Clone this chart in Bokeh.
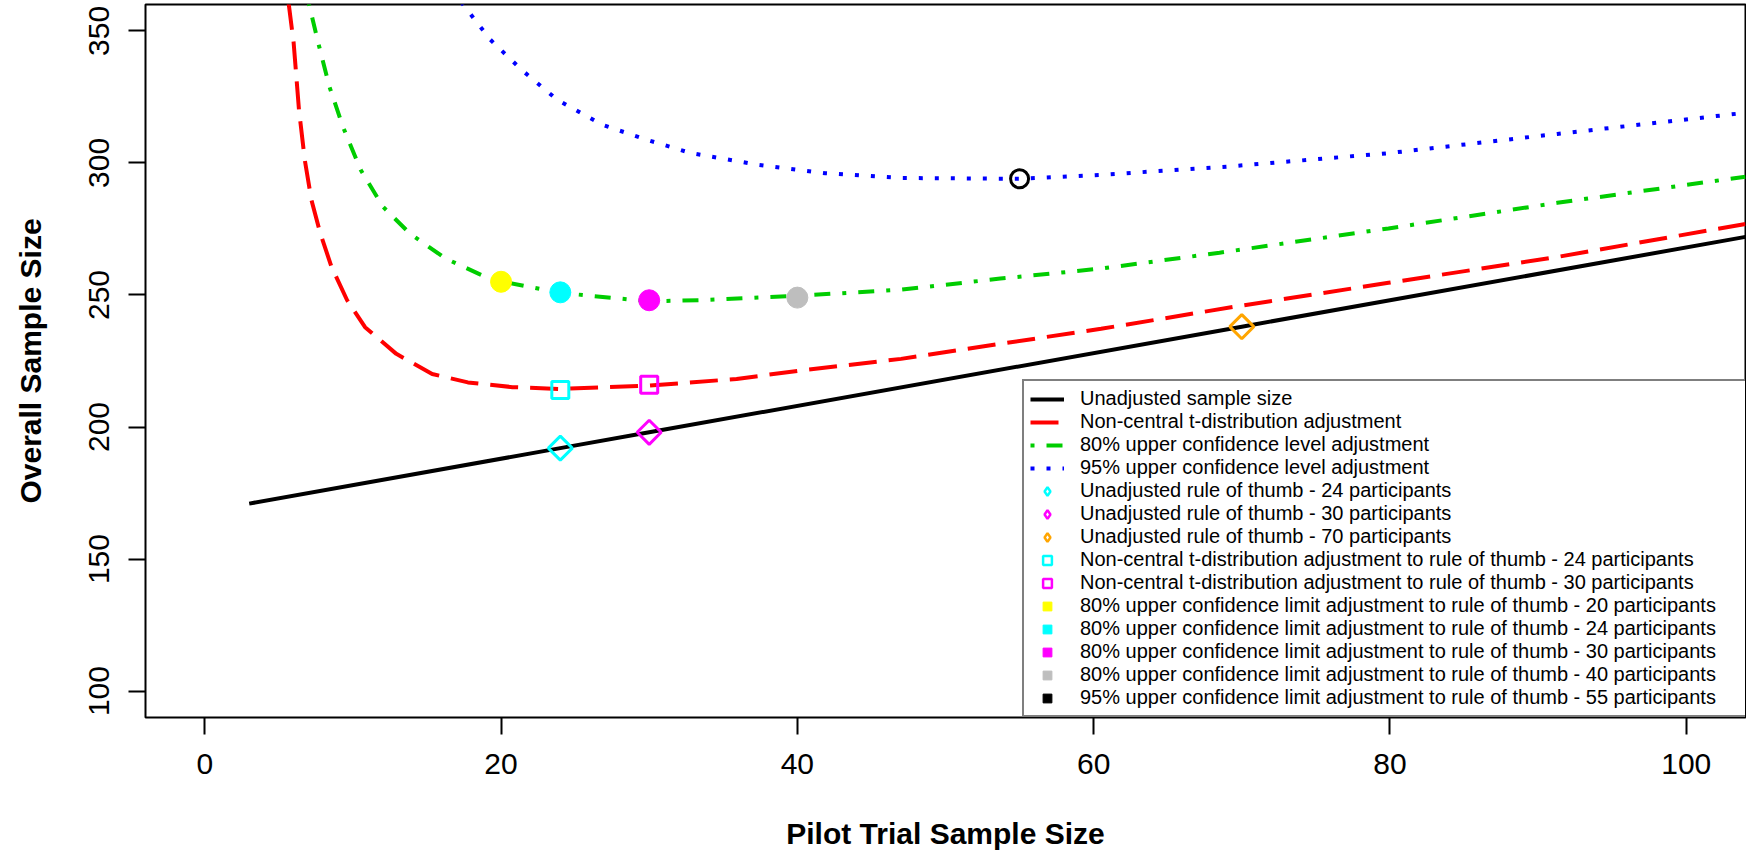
from bokeh.plotting import figure
from bokeh.models import Range1d, FixedTicker, Legend, LegendItem, ColumnDataSource
from bokeh.embed import file_html
from bokeh.resources import INLINE
import math

# ---------------- data ----------------
x_ticks = [0, 20, 40, 60, 80, 100]
y_ticks = [100, 150, 200, 250, 300, 350]

# Unadjusted sample size
unadj_n = [3, 24, 30, 70, 104]
unadj_total = [171, 192, 198, 238, 272]

# Non-central t-distribution adjustment
nct_n = [5.65, 6.0, 6.36, 6.75, 7.2, 7.8, 8.56, 9.61, 10.82, 12.93, 15.35, 17.76,
         20.78, 24.0, 30.0, 35.9, 40.2, 47.0, 53.7, 60.5, 70.0, 79.9, 91.3, 104]
nct_total = [361.0, 345.5, 320.1, 301.2, 286.0, 273.3, 260.6, 248.0, 237.8, 227.7, 220.1, 216.9,
             215.1, 214.4, 215.7, 218.2, 221.4, 225.8, 231.5, 237.2, 246.0, 254.6, 264.4, 276.9]

# 80% upper confidence level adjustment
ucl80_n = [7.0, 7.66, 8.41, 9.32, 10.52, 12.03, 13.84, 16.25, 18.97, 20.0, 24.0, 30.0,
           33.4, 40.0, 47.0, 53.7, 60.5, 68.5, 79.9, 91.3, 104]
ucl80_total = [361.0, 345.5, 329.0, 313.8, 297.4, 283.4, 273.3, 263.8, 256.8, 255.2, 250.8, 247.6,
               248.0, 249.7, 252.0, 256.2, 260.0, 266.0, 275.2, 284.9, 294.8]

# 95% upper confidence level adjustment
ucl95_n = [17.3, 19.27, 21.38, 23.79, 26.81, 29.82, 32.84, 37.36, 41.89, 47.0, 55.0,
           60.5, 69.0, 79.9, 91.3, 104]
ucl95_total = [361.0, 346.7, 335.3, 323.9, 314.5, 308.8, 303.7, 299.3, 296.1, 294.3, 294.0,
               295.5, 298.6, 303.7, 311.0, 319.0]

# rule-of-thumb points
thumb_unadj_n = [24, 30, 70]
thumb_unadj_total = [192, 198, 238]
thumb_unadj_color = ["#00FFFF", "#FF00FF", "#FFA500"]

thumb_nct_n = [24, 30]
thumb_nct_total = [214, 216]
thumb_nct_color = ["#00FFFF", "#FF00FF"]

thumb_ucl80_n = [20, 24, 30, 40]
thumb_ucl80_total = [255, 251, 248, 249]
thumb_ucl80_color = ["#FFFF00", "#00FFFF", "#FF00FF", "#BEBEBE"]

thumb_ucl95_n = [55]
thumb_ucl95_total = [294]
thumb_ucl95_color = ["#000000"]

legend_labels = [
    "Unadjusted sample size",
    "Non-central t-distribution adjustment",
    "80% upper confidence level adjustment",
    "95% upper confidence level adjustment",
    "Unadjusted rule of thumb - 24 participants",
    "Unadjusted rule of thumb - 30 participants",
    "Unadjusted rule of thumb - 70 participants",
    "Non-central t-distribution adjustment to rule of thumb - 24 participants",
    "Non-central t-distribution adjustment to rule of thumb - 30 participants",
    "80% upper confidence limit adjustment to rule of thumb - 20 participants",
    "80% upper confidence limit adjustment to rule of thumb - 24 participants",
    "80% upper confidence limit adjustment to rule of thumb - 30 participants",
    "80% upper confidence limit adjustment to rule of thumb - 40 participants",
    "95% upper confidence limit adjustment to rule of thumb - 55 participants",
]

# ---------------- figure ----------------
FONT = "Liberation Sans"
p = figure(width=1746, height=862, x_range=Range1d(-4, 104), y_range=Range1d(90, 360),
           output_backend="svg", toolbar_location=None,
           min_border_left=145, min_border_right=1, min_border_top=4, min_border_bottom=145,
           background_fill_color="white", border_fill_color="white")
p.grid.grid_line_color = None
p.outline_line_color = "black"
p.outline_line_width = 2

for ax in (p.xaxis[0], p.yaxis[0]):
    ax.axis_line_color = None
    ax.major_tick_line_color = "black"
    ax.major_tick_line_width = 2
    ax.major_tick_out = 17
    ax.major_tick_in = 0
    ax.minor_tick_line_color = None
    ax.major_label_text_font = FONT
    ax.major_label_text_font_size = "30px"
    ax.major_label_text_color = "black"
    ax.axis_label_text_font = FONT
    ax.axis_label_text_font_size = "30px"
    ax.axis_label_text_font_style = "bold"
    ax.axis_label_text_color = "black"

p.xaxis.ticker = FixedTicker(ticks=x_ticks)
p.yaxis.ticker = FixedTicker(ticks=y_ticks)
p.xaxis.axis_label = "Pilot Trial Sample Size"
p.yaxis.axis_label = "Overall Sample Size"
p.xaxis.major_label_standoff = 19
p.xaxis.axis_label_standoff = 40
p.yaxis.major_label_standoff = 19
p.yaxis.major_label_orientation = "vertical"
p.yaxis.axis_label_standoff = 40

LW = 4
r_unadj = p.line(unadj_n, unadj_total, line_color="black", line_width=LW)
r_nct = p.line(nct_n, nct_total, line_color="#FF0000", line_width=LW, line_dash="28 12")
r_80 = p.line(ucl80_n, ucl80_total, line_color="#00CD00", line_width=LW, line_dash="4 12 16 12")
r_95 = p.line(ucl95_n, ucl95_total, line_color="#0000FF", line_width=LW, line_dash="4 12")

# plotted markers
src_unadj = ColumnDataSource(dict(x=thumb_unadj_n, y=thumb_unadj_total, c=thumb_unadj_color))
src_nct = ColumnDataSource(dict(x=thumb_nct_n, y=thumb_nct_total, c=thumb_nct_color))
src_80 = ColumnDataSource(dict(x=thumb_ucl80_n, y=thumb_ucl80_total, c=thumb_ucl80_color))
src_95 = ColumnDataSource(dict(x=thumb_ucl95_n, y=thumb_ucl95_total, c=thumb_ucl95_color))

p.scatter(x="x", y="y", source=src_unadj, marker="square", angle=math.pi / 4, size=17,
          fill_color=None, line_color="c", line_width=3)
p.scatter(x="x", y="y", source=src_nct, marker="square", size=17,
          fill_color=None, line_color="c", line_width=3)
p.scatter(x="x", y="y", source=src_80, marker="circle", size=21,
          fill_color="c", line_color="c", line_width=1)
p.scatter(x="x", y="y", source=src_95, marker="circle", size=18,
          fill_color=None, line_color="c", line_width=3)

# legend-only glyphs: same points, hidden renderers whose glyph is used for the legend key
def legend_glyph(src, i, marker, filled):
    col = src.data["c"][i]
    one = ColumnDataSource(dict(x=[src.data["x"][i]], y=[src.data["y"][i]]))
    return p.scatter(x="x", y="y", source=one, visible=False,
                     marker=marker, fill_color=col if filled else None, line_color=col,
                     line_width=1 if filled else 2.5)

legend_renderers = (
    [legend_glyph(src_unadj, i, "diamond", False) for i in range(3)]
    + [legend_glyph(src_nct, i, "square", False) for i in range(2)]
    + [legend_glyph(src_80, i, "square", True) for i in range(4)]
    + [legend_glyph(src_95, 0, "square", True)]
)

all_leg_r = [r_unadj, r_nct, r_80, r_95] + legend_renderers
items = [LegendItem(label=lab, renderers=[r]) for lab, r in zip(legend_labels, all_leg_r)]
legend = Legend(items=items, location=(877, 0), margin=0, padding=6, spacing=0,
                label_height=22, glyph_height=22, glyph_width=34, label_standoff=16,
                label_width=661, click_policy="none",
                label_text_font=FONT, label_text_font_size="20px", label_text_color="black",
                border_line_color="black", border_line_width=2,
                background_fill_color="white", background_fill_alpha=1.0)
p.add_layout(legend)

open("out.html", "w").write(file_html(p, INLINE))
